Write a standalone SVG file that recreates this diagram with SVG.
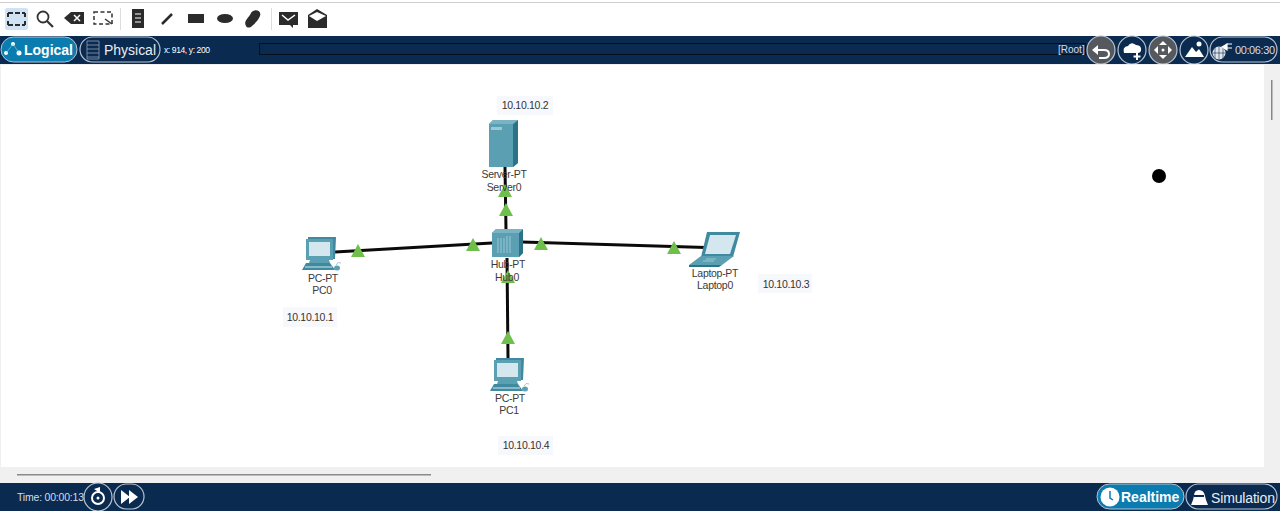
<svg xmlns="http://www.w3.org/2000/svg" width="1280" height="511" viewBox="0 0 1280 511">
<style>
text{font-family:"Liberation Sans",Arial,sans-serif}
.lb{font-size:10.500px;fill:#3a3a3a;text-anchor:middle;letter-spacing:-.3px}
.ip{font-size:10.500px;fill:#333;text-anchor:middle;letter-spacing:-.3px}
.ipb{fill:#f7f8fc}
.w{fill:#fff;font-size:10px}
.lnk{stroke:#0a0a0a;stroke-width:3;fill:none}
.tri{fill:#6fbf4c}
.ic{fill:#2b2b2b}
.pill{fill:#0a2a50;stroke:#b9c4d2;stroke-width:1.200}
.gp{fill:#55585c;stroke:#b9c4d2;stroke-width:1.200}
.tl{fill:#fff}
.t1{fill:#5b9fb3}.t2{fill:#3f8aa0}.t3{fill:#2a7388}.t4{fill:#d5e7ee}
</style>
<defs>
<path id="tr" class="tri" d="M0-7 7 6H-7Z"/>
<g id="pc">
<path class="t2" d="M-10-21H18L17 1H-10Z"/>
<path class="t1" d="M-12-19H15V2H-12Z"/>
<rect class="t4" x="-9" y="-16" width="21" height="14"/>
<path class="t1" d="M-8 2H11L12 5H-9Z"/>
<path class="t2" d="M-12 5H12L17 12H-16Z"/>
<path class="t4" d="M-13 8.500H14V9.500H-13Z"/>
<ellipse class="t1" cx="19" cy="10" rx="3" ry="2.500"/>
<path d="M18 7Q20 3 23 5" fill="none" stroke="#8fb6c4" stroke-width=".8"/>
</g>
</defs>
<rect width="1280" height="511" fill="#fff"/>
<rect x="0" y="2" width="1280" height="1" fill="#cfcfcf"/>

<g id="toolbar">
<rect x="5" y="8" width="23" height="22" rx="2" fill="#cfe3f5"/>
<path d="M8 13H25M8 25H25M8 13V17M25 13V17M8 21V25M25 21V25" fill="none" stroke="#2b2b2b" stroke-width="2" stroke-dasharray="5 2"/>
<circle cx="43" cy="17" r="5.500" fill="none" stroke="#333" stroke-width="1.800"/>
<path d="M47 21 53 27" stroke="#333" stroke-width="2.200"/>
<path class="ic" d="M64 18 71 12H84V24H71Z"/>
<path d="M74 15 80 21M80 15 74 21" stroke="#fff" stroke-width="1.500"/>
<path d="M94 12H112V24H94Z" fill="none" stroke="#333" stroke-width="1.500" stroke-dasharray="4 2.500"/>
<path d="M105 19 112 24" stroke="#333" stroke-width="1.500"/>
<rect x="120" y="8" width="1" height="22" fill="#ddd"/>
<path class="ic" d="M132 9H144V28H132Z"/>
<path d="M135 14H141M135 18H141M135 22H141" stroke="#fff" stroke-width="1.200"/>
<path d="M162 24 172 14" stroke="#2b2b2b" stroke-width="2.500"/>
<rect class="ic" x="188" y="14" width="16" height="9"/>
<ellipse class="ic" cx="225" cy="18.500" rx="8" ry="4.500"/>
<path class="ic" d="M246 26C243 21 249 18 251 13 254 8 262 10 260 16 258 21 254 24 252 26 250 28 247 28 246 26Z"/>
<rect x="271" y="8" width="1" height="22" fill="#ddd"/>
<path class="ic" d="M279 12H298V25H293V28L290 25H279Z"/>
<path d="M282 15 288 20 295 15" fill="none" stroke="#fff" stroke-width="1.500"/>
<path class="ic" d="M308 15 317 9 327 15V28H308Z"/>
<path d="M309 16 317 21 326 16 317 12Z" fill="#fff"/>
</g>

<g id="topbar">
<rect y="36" width="1280" height="28" fill="#0a2a50"/>
<rect x="259.500" y="43.500" width="826" height="11" fill="#0a2a50" stroke="#04101f"/>
<rect x="1" y="37" width="76" height="25" rx="12.500" fill="#0a7cb0" stroke="#b9c4d2"/>
<g fill="#fff"><circle cx="13" cy="44" r="2"/><circle cx="6" cy="53" r="2"/><circle cx="19" cy="53" r="2.500"/></g>
<path d="M13 44 6 53M13 44 19 53" stroke="#9cc" stroke-width=".6"/>
<text x="24" y="55" fill="#fff" font-size="14" font-weight="700">Logical</text>
<rect x="80" y="37" width="80" height="25" rx="12.500" class="pill"/>
<path d="M87 41H99V59H87ZM87 45H99M87 49H99M87 53H99M87 57H99" fill="none" stroke="#8fa0b5" stroke-width=".8"/>
<text x="104" y="55" fill="#e8edf3" font-size="14" textLength="52">Physical</text>
<text x="164" y="53" class="w" style="font-size:8.500px" textLength="46">x: 914, y: 200</text>
<text x="1058" y="53" fill="#d5dce5" style="font-size:10px">[Root]</text>
<circle cx="1101" cy="50" r="14" class="gp"/>
<path d="M1095 50H1104Q1109 50 1109 54 1109 58 1104 58H1099" fill="none" stroke="#fff" stroke-width="2"/>
<path class="tl" d="M1092 50 1098 45V55Z"/>
<circle cx="1132" cy="50" r="14" class="pill"/>
<path class="tl" d="M1124 53Q1122 47 1128 46 1131 41 1136 45 1142 45 1141 51 1140 53 1138 53H1126Z"/>
<path d="M1137 53V60M1133.500 56.500H1140.500" stroke="#fff" stroke-width="2"/>
<circle cx="1163" cy="50" r="14" class="gp"/>
<path class="tl" d="M1163 41 1167 45H1159ZM1163 59 1159 55H1167ZM1154 50 1158 46V54ZM1172 50 1168 46V54Z"/>
<circle cx="1163" cy="50" r="1.500" class="tl"/>
<circle cx="1194" cy="50" r="14" class="pill"/>
<path class="tl" d="M1185 57 1192 47 1196 52 1199 49 1204 57Z"/>
<circle cx="1199" cy="44" r="2.500" class="tl"/>
<rect x="1210" y="37" width="67" height="25" rx="12.500" class="pill"/>
<circle cx="1219" cy="53" r="6.500" fill="#dfe5eb"/>
<path d="M1213 53H1225M1219 47V59M1215 48V58M1223 48V58" stroke="#0a2a50" stroke-width=".6"/>
<path d="M1222 47 1227 44V50ZM1226 44H1232M1224 48H1232" fill="#fff" stroke="#fff" stroke-width="1.200"/>
<text x="1235" y="54" fill="#d5dce5" style="font-size:11px" textLength="40">00:06:30</text>
</g>

<g id="workspace">
<rect x="0" y="64" width="1280" height="419" fill="#f0f0f0"/>
<rect x="1" y="65" width="1263" height="402" fill="#fff"/>
<rect x="1271" y="80" width="1.500" height="40" fill="#888"/>
<rect x="17" y="474" width="414" height="1.500" fill="#8a8a8a"/>
<circle cx="1159" cy="176" r="7" fill="#000"/>
</g>

<g id="connectors">
<path class="lnk" d="M335 252 492 243"/>
<path class="lnk" d="M522 242 706 247.500"/>
<path class="lnk" d="M505 167 506 230"/>
<path class="lnk" d="M507 258 508 358"/>
<use href="#tr" x="358" y="251"/>
<use href="#tr" x="473" y="245"/>
<use href="#tr" x="541" y="244"/>
<use href="#tr" x="674" y="248"/>
<use href="#tr" x="506" y="210"/>
<use href="#tr" x="505" y="191"/>
<use href="#tr" x="508" y="277"/>
<use href="#tr" x="508" y="338"/>
</g>

<g id="Server0">
<path class="t1" d="M489 124 493 120H518V163L513 167H489Z"/>
<path class="t3" d="M513 124 518 120V163L513 167Z"/>
<path d="M489 124 493 120H518L513 124Z" fill="#7ab3c4"/>
<rect x="491" y="127" width="11" height="3" fill="#9cc8d6"/>
<text class="lb" x="504" y="178">Server-PT</text>
<text class="lb" x="504" y="191">Server0</text>
</g>
<g id="Hub0">
<path class="t1" d="M492 233 496 229H523V253L519 257H492Z"/>
<path class="t3" d="M519 233 523 229V253L519 257Z"/>
<path d="M492 233 496 229H523L519 233Z" fill="#7ab3c4"/>
<path d="M498 238V253M501 238V253M504 238V253M507 236V253M510 236V253" stroke="#9cc8d6" stroke-width="1"/>
<text class="lb" x="508" y="268">Hub-PT</text>
<text class="lb" x="507" y="281">Hub0</text>
</g>
<g id="PC0">
<use href="#pc" x="318" y="258"/>
<text class="lb" x="323" y="282">PC-PT</text>
<text class="lb" x="322" y="294">PC0</text>
</g>
<g id="PC1">
<use href="#pc" x="506" y="379"/>
<text class="lb" x="510" y="402">PC-PT</text>
<text class="lb" x="509" y="414">PC1</text>
</g>
<g id="Laptop0">
<path class="t2" d="M707 232H740L733 257H701Z"/>
<path class="t4" d="M710 235H736L730 254H705Z"/>
<path class="t1" d="M701 256H734L722 265H689Z"/>
<path d="M689 265H722L719 267H689Z" class="t3"/>
<path d="M706 259H716M703 261H714" stroke="#9cc8d6" stroke-width="1"/>
<text class="lb" x="715" y="277">Laptop-PT</text>
<text class="lb" x="715" y="289">Laptop0</text>
</g>

<g id="ip-labels">
<rect class="ipb" x="497" y="96" width="56" height="19"/>
<text class="ip" x="525" y="109">10.10.10.2</text>
<rect class="ipb" x="283" y="307" width="54" height="20"/>
<text class="ip" x="310" y="321">10.10.10.1</text>
<rect class="ipb" x="758" y="274" width="54" height="19"/>
<text class="ip" x="786" y="288">10.10.10.3</text>
<rect class="ipb" x="498" y="436" width="55" height="19"/>
<text class="ip" x="526" y="449">10.10.10.4</text>
</g>

<g id="bottombar">
<rect y="483" width="1280" height="28" fill="#0a2a50"/>
<text x="17" y="501" fill="#d5dce5" style="font-size:10.500px" textLength="67">Time: 00:00:13</text>
<circle cx="98" cy="497" r="14" class="pill"/>
<circle cx="98" cy="498" r="6" fill="none" stroke="#fff" stroke-width="2"/>
<circle cx="98" cy="498" r="1.500" fill="#fff"/>
<path class="tl" d="M94 489 100 487V493Z"/>
<rect x="114" y="484" width="30" height="25" rx="12.500" class="pill"/>
<path class="tl" d="M121 490 130 497 121 504ZM129 490 138 497 129 504Z"/>
<rect x="1097" y="484" width="87" height="25" rx="12.500" fill="#0a7cb0" stroke="#b9c4d2"/>
<circle cx="1110" cy="497" r="9.500" fill="#fff"/>
<path d="M1110 491V498L1113 500" fill="none" stroke="#0a7cb0" stroke-width="1.500"/>
<text x="1121" y="502" fill="#fff" font-size="14" font-weight="700">Realtime</text>
<rect x="1186" y="484" width="91" height="25" rx="12.500" class="pill"/>
<path class="tl" d="M1191 505 1193 500 1194 496Q1194 490 1199 490 1204 490 1205 496L1206 500 1208 505Z"/>
<rect x="1194" y="495" width="10" height="2" fill="#0a2a50"/>
<text x="1211" y="503" fill="#e8edf3" font-size="14" font-weight="400" textLength="64">Simulation</text>
</g>
</svg>
